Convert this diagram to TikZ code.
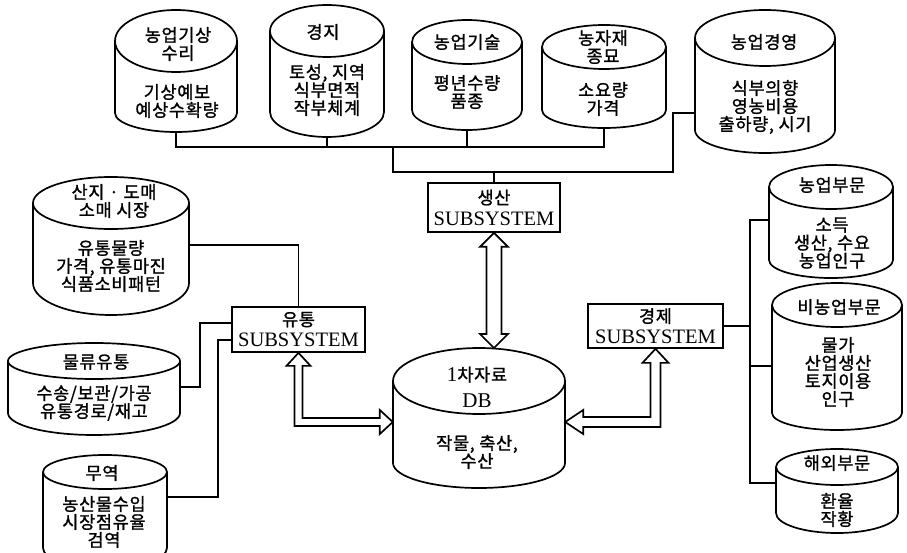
\documentclass[tikz,border=0pt]{standalone}
\usepackage{fontspec}
\setmainfont{Liberation Serif}
\newfontfamily\krf[LetterSpace=4,FakeBold=1.2]{Noto Sans CJK KR}
\usetikzlibrary{calc}
\newcommand\kt{\krf\fontsize{17.5}{18}\selectfont}
\newcommand\lt{\rmfamily\fontsize{20.5}{21}\selectfont}
\newcommand\dbf{\rmfamily\fontsize{21}{22}\selectfont}
\tikzset{
 ln/.style={line width=1.7pt, line join=miter},
 cylpath/.style={line width=1.7pt, fill=white},
 txt/.style={align=center, inner sep=0pt, font=\kt},
 sbox/.style={draw, line width=1.7pt, fill=white, align=center, inner sep=0pt, font=\lt},
 harrow/.style={line width=1.7pt, fill=white, line join=miter},
}
% name, cx, rx, top, mid, sidebottom, bottom
\newcommand\mycyl[7]{%
 \pgfmathsetmacro\cyta{#5-#4}\pgfmathsetmacro\cytb{#7-#6}%
 \draw[cylpath] (#2-#3,-#5) -- (#2-#3,-#6) arc[start angle=180,end angle=360,x radius=#3pt,y radius=\cytb pt] -- (#2+#3,-#5);
 \draw[cylpath] (#2,-#5) ellipse[x radius=#3pt,y radius=\cyta pt];
 \node[inner sep=0pt, minimum width={2*#3pt}, minimum height={(#6-#5)*1pt}] (#1) at (#2,{-(#5+#6)/2}) {};
 \coordinate (#1-b) at (#2,-#7);
}
\begin{document}
\begin{tikzpicture}[x=1pt,y=1pt]
\useasboundingbox (0,0) rectangle (907,-553);
\clip (0,0) rectangle (907,-553);

% cylinders
\mycyl{c1}{176}{61}{10}{41}{113}{132}
\mycyl{c2}{327}{57}{5}{31}{112}{137}
\mycyl{c3}{467}{55}{20}{42}{110}{130}
\mycyl{c4}{604}{62}{25}{47}{110}{128}
\mycyl{c5}{765}{70}{10}{38}{130}{153}
\mycyl{c6}{111}{78}{177}{203}{283}{315}
\mycyl{c7}{94}{86}{343}{361}{413}{435}
\mycyl{c8}{105}{62}{455}{472}{548}{568}
\mycyl{db}{479}{86}{348}{381}{463}{488}
\mycyl{c10}{831}{62}{165}{187}{260}{278}
\mycyl{c11}{837}{65}{283}{305}{413}{430}
\mycyl{c12}{837}{61}{449}{467}{513}{533}

% cylinder texts
\node[txt] (t1a) at (178,-44) {농업기상\\수리};
\node[txt] (t1b) at (177,-101) {기상예보\\예상수확량};
\node[txt] (t2a) at (323,-32) {경지};
\node[txt] (t2b) at (327,-90) {토성, 지역\\식부면적\\작부체계};
\node[txt] (t3a) at (467,-42) {농업기술};
\node[txt] (t3b) at (467,-92) {평년수량\\품종};
\node[txt] (t4a) at (603,-47) {농자재\\종묘};
\node[txt] (t4b) at (603,-99) {소요량\\가격};
\node[txt] (t5a) at (764,-42) {농업경영};
\node[txt] (t5b) at (765,-107) {식부의향\\영농비용\\출하량, 시기};
\node[txt] (t6a) at (114,-201) {산지 · 도매\\소매 시장};
\node[txt] (t6b) at (111,-266) {유통물량\\가격, 유통마진\\식품소비패턴};
\node[txt] (t7a) at (96,-362) {물류유통};
\node[txt] (t7b) at (94,-403) {수송/보관/가공\\유통경로/재고};
\node[txt] (t8a) at (102,-473) {무역};
\node[txt] (t8b) at (104,-522) {농산물수입\\시장점유율\\검역};
\node[txt] (tda) at (477,-387) {{\dbf 1}차자료\\[8pt]{\dbf DB}};
\node[txt] (tdb) at (477,-452) {작물, 축산,\\수산};
\node[txt] (t10a) at (832,-185) {농업부문};
\node[txt] (t10b) at (832,-243) {소득\\생산, 수요\\농업인구};
\node[txt] (t11a) at (839,-307) {비농업부문};
\node[txt] (t11b) at (838,-372) {물가\\산업생산\\토지이용\\인구};
\node[txt] (t12a) at (837,-463) {해외부문};
\node[txt] (t12b) at (837,-510) {환율\\작황};

% subsystem boxes
\node[sbox, minimum width=132pt, minimum height=49pt] (prod) at (494,-207.5) {{\kt 생산}\\SUBSYSTEM};
\node[sbox, minimum width=133pt, minimum height=45pt] (dist) at (298.5,-329.5) {{\kt 유통}\\SUBSYSTEM};
\node[sbox, minimum width=135pt, minimum height=44pt] (econ) at (655.5,-326) {{\kt 경제}\\SUBSYSTEM};

% top buses
\coordinate (busA) at (0,-147);
\coordinate (busB) at (0,-172);
\coordinate (jA) at (393,-147);
\coordinate (jB) at (673,-113);
\draw[ln] (c1-b) -- (c1-b |- busA) -- (c4-b |- busA) -- (c4-b);
\draw[ln] (c2-b) -- (c2-b |- busA);
\draw[ln] (c3-b) -- (c3-b |- busA);
\draw[ln] (jA) -- (jA |- busB) -- (jB |- busB) -- (jB) -- (c5.west |- jB);
\draw[ln] (prod.north) -- (prod.north |- busB);

% left connectors
\draw[ln] (c6.east |- 0,-245) -| (dist.north);
\draw[ln] (dist.west |- 0,-323) -- (200,-323) |- (c7.east);
\draw[ln] (dist.west |- 0,-340) -- (218,-340) |- (c8.east |- 0,-497);

% right connectors
\coordinate (rb) at (750,-220);
\draw[ln] (econ.east) -- (econ.east -| rb);
\draw[ln] (c10.west |- rb) -- (rb) -- (750,-483) -- (c12.west |- 0,-483);
\draw[ln] (750,-366) -- (c11.west |- 0,-366);

% hollow double arrows
\coordinate (pA) at (prod.south);
\coordinate (pB) at (prod.south |- 0,-348);
\draw[harrow] (pA) -- ($(pA)+(14,-14)$) -- ($(pA)+(7.5,-14)$) -- ($(pB)+(7.5,14)$) -- ($(pB)+(14,14)$) -- (pB)
  -- ($(pB)+(-14,14)$) -- ($(pB)+(-7.5,14)$) -- ($(pA)+(-7.5,-14)$) -- ($(pA)+(-14,-14)$) -- cycle;

\coordinate (lA) at (dist.south);
\coordinate (lB) at (db.west);
\draw[harrow] (lA) -- ($(lA)+(12,-13)$) -- ($(lA)+(4,-13)$) -- ($(lA |- lB)+(4,4)$) -- ($(lB)+(-13,4)$) -- ($(lB)+(-13,12)$) -- (lB)
  -- ($(lB)+(-13,-12)$) -- ($(lB)+(-13,-4)$) -- ($(lA |- lB)+(-4,-4)$) -- ($(lA)+(-4,-13)$) -- ($(lA)+(-12,-13)$) -- cycle;

\coordinate (rA) at (econ.south);
\coordinate (rB) at (db.east);
\draw[harrow] (rA) -- ($(rA)+(13,-14)$) -- ($(rA)+(5,-14)$) -- ($(rA |- rB)+(5,-5)$) -- ($(rB)+(18,-5)$) -- ($(rB)+(18,-12)$) -- (rB)
  -- ($(rB)+(18,12)$) -- ($(rB)+(18,5)$) -- ($(rA |- rB)+(-5,5)$) -- ($(rA)+(-5,-14)$) -- ($(rA)+(-13,-14)$) -- cycle;
\end{tikzpicture}
\end{document}
